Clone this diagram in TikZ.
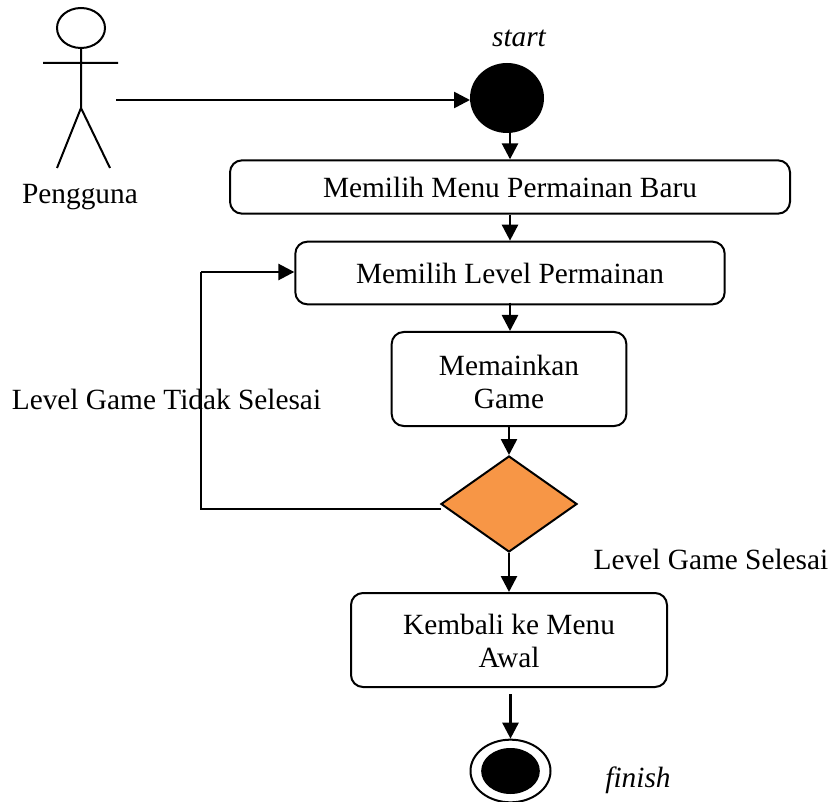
\documentclass[tikz,border=0pt]{standalone}
\usepackage{fontspec}
\setmainfont{Liberation Serif}
\usetikzlibrary{shapes.geometric,arrows.meta}
\definecolor{dorange}{RGB}{247,150,70}
\tikzset{
  box/.style={draw,rounded corners=9pt,line width=1.5pt,align=center,font=\fontsize{22}{24.7}\selectfont,inner sep=0pt},
  lbl/.style={font=\fontsize{22}{24.7}\selectfont,inner sep=0pt},
  ilbl/.style={font=\fontsize{22}{24.7}\selectfont\itshape,inner sep=0pt},
  arr/.style={line width=2pt,-{Triangle[length=12pt,width=12pt]}},
  lin/.style={line width=1.5pt}
}
\begin{document}
\begin{tikzpicture}[x=0.75pt,y=-0.75pt]
\useasboundingbox (0,0) rectangle (832,802);
\node[ellipse,draw,line width=1.5pt,minimum width=36pt,minimum height=30pt,inner sep=0pt] (head) at (81,28) {};
\coordinate (hip) at (81,108);
\coordinate (armL) at (43,63);
\coordinate (armR) at (118,63);
\coordinate (legL) at (57,168);
\coordinate (legR) at (110,168);
\draw[lin] (head.south)--(hip) (armL)--(armR) (legL)--(hip)--(legR);
\node[lbl] (actor) at (80,197) {Pengguna};
\coordinate (actorOut) at (116,100);
\coordinate (startIn) at (470,100);
\node[ilbl] (startL) at (519,38) {start};
\node[ellipse,fill=black,minimum width=55.5pt,minimum height=52.5pt,inner sep=0pt] (start) at (507,98) {};
\node[box,minimum width=420pt,minimum height=40pt] (b1) at (510,187) {Memilih Menu Permainan Baru};
\node[box,minimum width=322pt,minimum height=47pt] (b2) at (510,273) {Memilih Level Permainan};
\node[box,minimum width=176pt,minimum height=70.5pt] (b3) at (509,379) {\rule{0pt}{20pt}Memainkan\\Game};
\node[diamond,aspect=1.42,draw=black,fill=dorange,line width=1.5pt,inner sep=0pt,minimum width=102pt,minimum height=72pt] (d) at (509,504) {};
\node[box,minimum width=237pt,minimum height=70.5pt] (b4) at (509,640) {\rule{0pt}{17pt}Kembali ke Menu\\Awal};
\node[ellipse,draw,line width=1.5pt,minimum width=60pt,minimum height=47pt,inner sep=0pt] (end) at (510.5,771) {};
\node[ellipse,fill=black,minimum width=44pt,minimum height=34.5pt,inner sep=0pt] (endin) at (510.5,771) {};
\node[ilbl] (finL) at (638,780) {finish};
\node[lbl] (l1) at (166.5,399) {Level Game Tidak Selesai};
\node[lbl] (l2) at (711,559) {Level Game Selesai};
\draw[arr] (actorOut)--(startIn);
\draw[arr] (start.south -| b1.north)--(b1.north);
\draw[arr] (b1.south)--(b2.north);
\draw[arr] ([yshift=2pt]b2.south)--(b2.south |- b3.north);
\draw[arr] (b3.south)--(d.north);
\draw[arr] (d.south)--(b4.north);
\draw[arr] ([yshift=-4.5pt]end.north |- b4.south)--(end.north);
\coordinate (dL) at (441,509);
\coordinate (c1) at (201,509);
\coordinate (c2) at (201,272);
\coordinate (b2L) at (b2.west |- c2);
\draw[lin] (dL)--(c1)--(c2);
\draw[arr] (c2)--(b2L);
\end{tikzpicture}
\end{document}
